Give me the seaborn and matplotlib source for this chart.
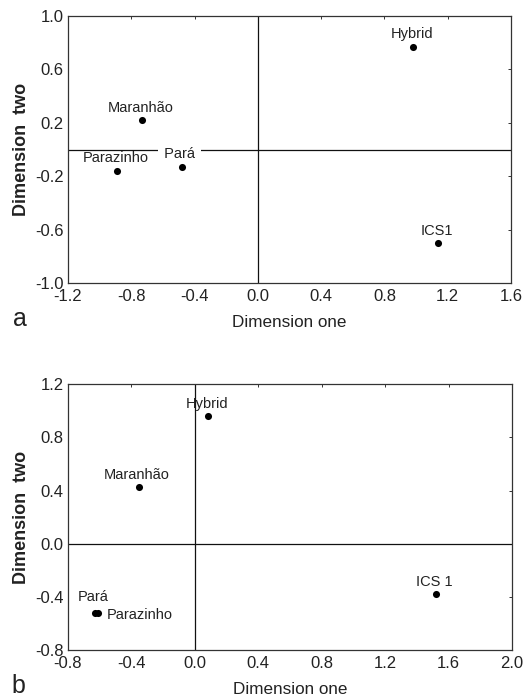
import pandas as pd
import seaborn as sns
import matplotlib.pyplot as plt

# panel a coordinates
names_a = ["Hybrid", "ICS1", "Maranhão", "Parazinho", "Pará"]
dim1_a = [0.98, 1.14, -0.73, -0.89, -0.48]
dim2_a = [0.77, -0.70, 0.22, -0.16, -0.13]

# panel b coordinates
names_b = ["Hybrid", "ICS 1", "Maranhão", "Pará", "Parazinho"]
dim1_b = [0.08, 1.52, -0.35, -0.63, -0.61]
dim2_b = [0.96, -0.38, 0.43, -0.52, -0.525]

xticks_a = [-1.2, -0.8, -0.4, 0.0, 0.4, 0.8, 1.2, 1.6]
yticks_a = [-1.0, -0.6, -0.2, 0.2, 0.6, 1.0]
xticks_b = [-0.8, -0.4, 0.0, 0.4, 0.8, 1.2, 1.6, 2.0]
yticks_b = [-0.8, -0.4, 0.0, 0.4, 0.8, 1.2]

sns.set_theme(style="white")
plt.rcParams['font.family'] = ['Liberation Sans', 'DejaVu Sans']
plt.rcParams['text.color'] = '#222222'
plt.rcParams['axes.labelcolor'] = '#222222'

fig = plt.figure(figsize=(5.23, 6.97), dpi=100)
ax_a = fig.add_axes([0.130, 0.594, 0.847, 0.383])
ax_b = fig.add_axes([0.130, 0.0674, 0.849, 0.3812])

df_a = pd.DataFrame({"name": names_a, "x": dim1_a, "y": dim2_a})
df_b = pd.DataFrame({"name": names_b, "x": dim1_b, "y": dim2_b})

# label offsets in points from the dot to the text baseline: (dx, dy, ha, white box)
offs_a = {"Hybrid": (-0.5, 6.1, "center", False), "ICS1": (-1, 5.4, "center", False),
          "Maranhão": (-1.5, 5.9, "center", False), "Parazinho": (-1.2, 6.3, "center", False),
          "Pará": (-1.5, 6.4, "center", True)}
offs_b = {"Hybrid": (-0.5, 5.7, "center", False), "ICS 1": (-1.2, 6.1, "center", False),
          "Maranhão": (-1.7, 5.7, "center", False), "Pará": (-1.5, 8.3, "center", False),
          "Parazinho": (6.5, -4.2, "left", False)}

for ax, df, offs, xt, yt in [(ax_a, df_a, offs_a, xticks_a, yticks_a),
                             (ax_b, df_b, offs_b, xticks_b, yticks_b)]:
    ax.axhline(0, color="#111111", lw=0.9, zorder=1)
    ax.axvline(0, color="#111111", lw=0.9, zorder=1)
    sns.scatterplot(data=df, x="x", y="y", ax=ax, color="black", s=26,
                    edgecolor="black", linewidth=0, zorder=3, legend=False)
    for _, row in df.iterrows():
        dx, dy, ha, box = offs[row["name"]]
        label = row["name"]
        bbox = None
        if box:
            # white box breaks the zero line behind the label
            label = " " + label + " "
            bbox = dict(facecolor="white", edgecolor="none", pad=1.5)
        ax.annotate(label, (row["x"], row["y"]), xytext=(dx, dy),
                    textcoords="offset points", ha=ha, va="baseline",
                    fontsize=10.5, color="#222222", bbox=bbox, zorder=2)
    ax.set_xlim(xt[0], xt[-1])
    ax.set_ylim(yt[0], yt[-1])
    ax.set_xticks(xt)
    ax.set_yticks(yt)
    ax.set_xticklabels([f"{v:.1f}" for v in xt])
    ax.set_yticklabels([f"{v:.1f}" for v in yt])
    ax.tick_params(direction="in", length=2, width=0.7, labelsize=12,
                   top=True, right=True, colors="#333333", labelcolor="#222222")
    ax.tick_params(axis="x", pad=4)
    ax.tick_params(axis="y", pad=3)
    for sp in ax.spines.values():
        sp.set_color("#333333")
        sp.set_linewidth(0.9)
    ax.set_xlabel("Dimension one", fontsize=12.3, labelpad=8.5)
    ax.set_ylabel("Dimension  two", fontsize=13, fontweight="bold", labelpad=4)

fig.text(0.038, 0.543, "a", fontsize=18, ha="center", va="center")
fig.text(0.036, 0.016, "b", fontsize=18, ha="center", va="center")

fig.savefig("out.png", dpi=100)
